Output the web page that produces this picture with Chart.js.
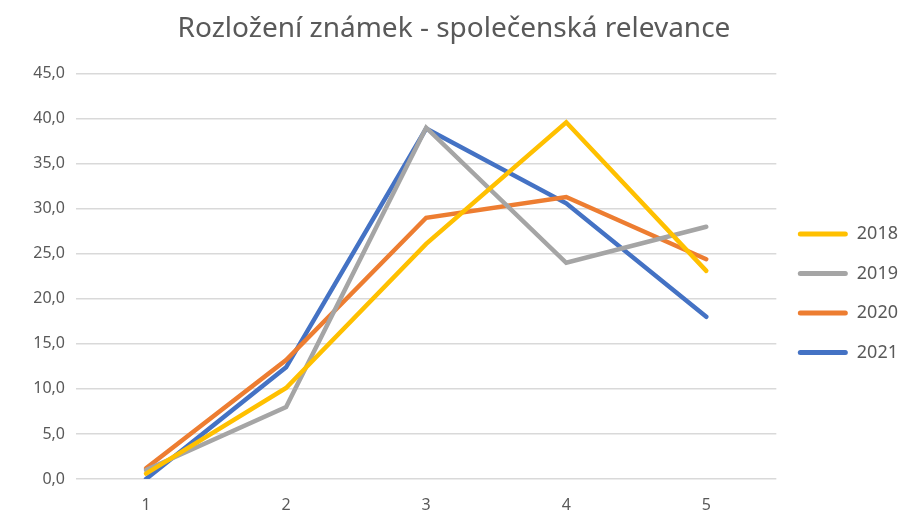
<!DOCTYPE html>
<html>
<head>
<meta charset="utf-8">
<script src="https://cdn.jsdelivr.net/npm/chart.js@4"></script>
<style>
    html, body { margin: 0; padding: 0; background: #ffffff; }
    #wrap { width: 908px; height: 514px; position: relative; }
</style>
</head>
<body>
<div id="wrap"><canvas id="chart"></canvas></div>
<script>
// Data
const categories = ["1", "2", "3", "4", "5"];
const years = ["2018", "2019", "2020", "2021"];
const values2018 = [0.6, 10.1, 26.1, 39.6, 23.1];
const values2019 = [1.0, 8.0, 39.0, 24.0, 28.0];
const values2020 = [1.2, 13.2, 29.0, 31.3, 24.4];
const values2021 = [0.0, 12.4, 38.9, 30.6, 18.0];
const colors = ["#FFC000", "#A5A5A5", "#ED7D31", "#4472C4"];
const yMax = 45;
const yStep = 5;

const seriesValues = [values2018, values2019, values2020, values2021];
const textColor = "#595959";
const fontFamily = "'Noto Sans', 'Open Sans', sans-serif";

const ctx = document.getElementById("chart").getContext("2d");

new Chart(ctx, {
    type: "line",
    data: {
        labels: categories,
        datasets: years.map((year, i) => ({
            label: year,
            data: seriesValues[i],
            borderColor: colors[i],
            backgroundColor: colors[i],
            borderWidth: 4.5,
            pointRadius: 0,
            pointHoverRadius: 0,
            tension: 0,
            borderCapStyle: "round",
            fill: false,
        })),
    },
    options: {
        responsive: true,
        maintainAspectRatio: false,
        animation: false,
        layout: {
            padding: { left: 0, right: 0, top: 0, bottom: 0 },
        },
        plugins: {
            title: {
                display: true,
                text: "Rozložení známek - společenská relevance",
                color: textColor,
                font: { family: fontFamily, size: 28, weight: "normal" },
                padding: { top: 12, bottom: 28 },
            },
            legend: {
                display: true,
                position: "right",
                title: {
                    display: true,
                    text: "",
                    padding: { top: 29, bottom: 29 },
                },
                labels: {
                    color: textColor,
                    font: { family: fontFamily, size: 18 },
                    boxWidth: 50,
                    boxHeight: 5,
                    padding: 21.5,
                    generateLabels: (chart) => chart.data.datasets.map((ds, i) => ({
                        text: ds.label,
                        fillStyle: ds.borderColor,
                        strokeStyle: ds.borderColor,
                        lineWidth: 0,
                        datasetIndex: i,
                        fontColor: textColor,
                        borderRadius: 2.5,
                    })),
                },
            },
            tooltip: { enabled: false },
        },
        scales: {
            y: {
                min: 0,
                max: yMax,
                afterFit: (scale) => { scale.width = 76; },
                ticks: {
                    stepSize: yStep,
                    color: textColor,
                    font: { family: fontFamily, size: 16 },
                    padding: 11,
                    callback: (value) => value.toFixed(1).replace(".", ","),
                },
                grid: {
                    color: "#d9d9d9",
                    lineWidth: 1.5,
                    drawTicks: false,
                },
                border: { display: false },
            },
            x: {
                offset: true,
                afterFit: (scale) => { scale.height = 35; },
                ticks: {
                    color: textColor,
                    font: { family: fontFamily, size: 16 },
                    padding: 9,
                },
                grid: { display: false },
                border: { display: false },
            },
        },
    },
});
</script>
</body>
</html>
